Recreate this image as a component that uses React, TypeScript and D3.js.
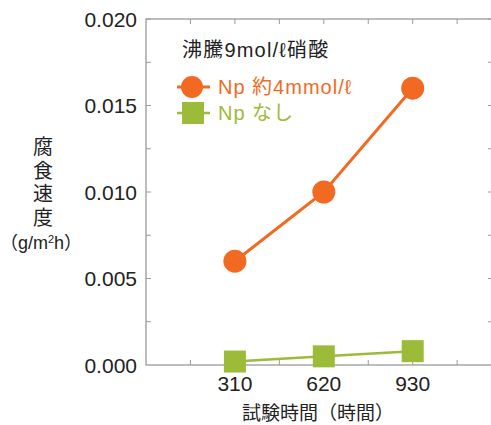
import React from 'react';
import * as d3 from 'd3';

const hours = [310, 620, 930];
const withNp = [0.006, 0.01, 0.016];
const withoutNp = [0.0002, 0.0005, 0.0008];
const yTicks = [0, 0.005, 0.01, 0.015, 0.02];
const yTickLabels = ['0.000', '0.005', '0.010', '0.015', '0.020'];
const xLabelTicks = [310, 620, 930];
const legendTitle = '沸騰9mol/ℓ硝酸';
const seriesNames = ['Np 約4mmol/ℓ', 'Np なし'];
const yTitleChars = ['腐', '食', '速', '度'];

const ORANGE = '#f26a22';
const GREEN = '#9cbb38';
const AXIS = '#9a9a9a';
const FONT = '"Liberation Sans", "Noto Sans CJK JP", sans-serif';

const W = 491;
const H = 425;
const left = 146;
const right = 493;
const top = 19;
const bottom = 365;

export default function App() {
  const x = d3.scaleLinear().domain([0, 1210]).range([left, right]);
  const y = d3.scaleLinear().domain([0, 0.02]).range([bottom, top]);

  const minorX = d3.range(155, 1210, 155);
  const minorY = d3.range(0.0025, 0.02, 0.0025);

  const line = d3.line<number>().x((_, i) => x(hours[i])).y(v => y(v));

  return (
    <div style={{ position: 'absolute', left: 0, top: 0, background: '#fff' }}>
      <svg width={W} height={H} style={{ display: 'block', fontFamily: FONT }}>
        <rect width={W} height={H} fill="#fff" />
        {/* frame: right edge sits just past the picture, only its ticks show */}
        <rect x={left} y={top} width={right - left} height={bottom - top}
          fill="none" stroke={AXIS} strokeWidth={1.3} />
        {minorX.map(v => (
          <g key={`xt${v}`} stroke={AXIS} strokeWidth={1}>
            <line x1={x(v)} x2={x(v)} y1={bottom} y2={bottom - 5} />
            <line x1={x(v)} x2={x(v)} y1={top} y2={top + 5} />
          </g>
        ))}
        {minorY.map(v => (
          <g key={`yt${v}`} stroke={AXIS} strokeWidth={1}>
            <line x1={left} x2={left + 5} y1={y(v)} y2={y(v)} />
            <line x1={right} x2={right - 5} y1={y(v)} y2={y(v)} />
          </g>
        ))}
        {yTicks.map((v, i) => (
          <text key={`yl${v}`} x={137} y={y(v)} dy="0.36em" textAnchor="end"
            fontSize={21} fill="#222">{yTickLabels[i]}</text>
        ))}
        {xLabelTicks.map(v => (
          <text key={`xl${v}`} x={x(v)} y={391} textAnchor="middle"
            fontSize={21} fill="#222">{v}</text>
        ))}
        <text x={318} y={420} textAnchor="middle" fontSize={19} fill="#222">
          試験時間（時間）
        </text>
        {yTitleChars.map((c, i) => (
          <text key={c} x={43} y={147 + i * 23.5} dy="0.36em" textAnchor="middle"
            fontSize={20} fill="#222">{c}</text>
        ))}
        <text x={41} y={243} dy="0.36em" textAnchor="middle" fontSize={18} fill="#222">
          （g/m<tspan fontSize={11} dy="-6">2</tspan><tspan dy="6">h）</tspan>
        </text>

        {/* series */}
        <path d={line(withoutNp) || ''} fill="none" stroke={GREEN} strokeWidth={2.5} />
        {withoutNp.map((v, i) => (
          <rect key={`sq${i}`} x={x(hours[i]) - 11} y={y(v) - 11} width={22} height={22} fill={GREEN} />
        ))}
        <path d={line(withNp) || ''} fill="none" stroke={ORANGE} strokeWidth={3} />
        {withNp.map((v, i) => (
          <circle key={`c${i}`} cx={x(hours[i])} cy={y(v)} r={11.5} fill={ORANGE} />
        ))}

        {/* legend */}
        <text x={182} y={50} dy="0.36em" fontSize={20} letterSpacing={1.2} fill="#222">{legendTitle}</text>
        <line x1={177} x2={210} y1={87} y2={87} stroke={ORANGE} strokeWidth={3} />
        <circle cx={192} cy={87} r={11} fill={ORANGE} />
        <text x={218} y={87} dy="0.36em" fontSize={20} letterSpacing={1} fill={ORANGE}>{seriesNames[0]}</text>
        <line x1={177} x2={210} y1={113} y2={113} stroke={GREEN} strokeWidth={2.5} />
        <rect x={182} y={102} width={22} height={22} fill={GREEN} />
        <text x={218} y={113} dy="0.36em" fontSize={20} letterSpacing={1} fill={GREEN}>{seriesNames[1]}</text>
      </svg>
    </div>
  );
}
